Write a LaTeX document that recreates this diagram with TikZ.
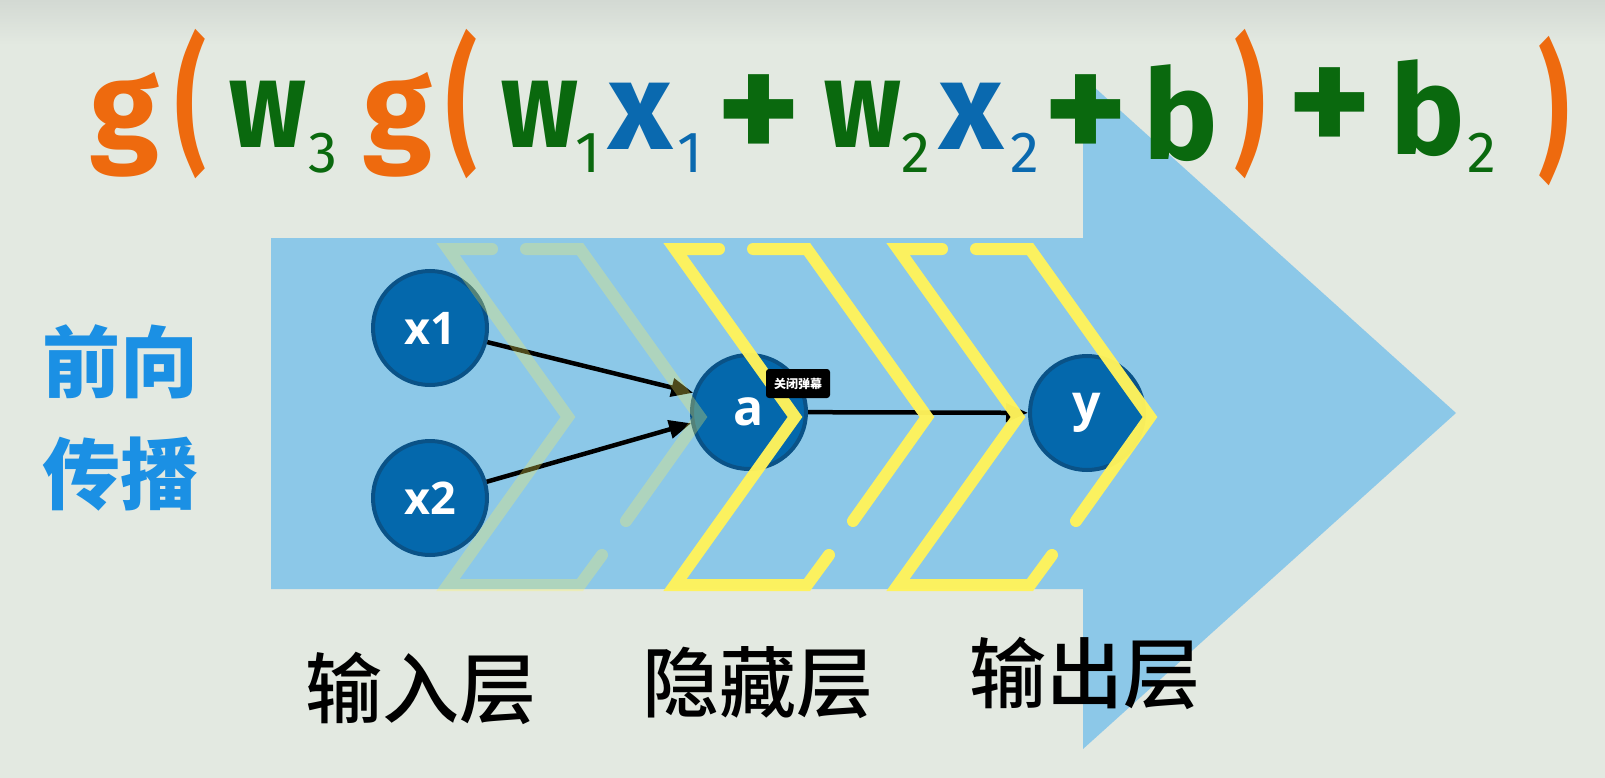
\documentclass[tikz,border=0pt]{standalone}
\usepackage{fontspec}
\setmainfont{Open Sans}
\newfontfamily\cjk{Noto Sans CJK SC}
\newfontfamily\cjkmed{Noto Sans CJK SC}[UprightFont={* Medium}]
\newfontfamily\formfont{Fira Sans}
\usetikzlibrary{arrows.meta}
\definecolor{bg}{HTML}{E3E9E1}
\definecolor{bgtop}{HTML}{D3D9D3}
\definecolor{orng}{HTML}{EE6A0E}
\definecolor{fgreen}{HTML}{0A690E}
\definecolor{fblue}{HTML}{0A69AF}
\definecolor{lblue}{HTML}{1B90E4}
\definecolor{arrowblue}{HTML}{8CC8E8}
\definecolor{chevyellow}{HTML}{FFF35B}
\definecolor{nfill}{HTML}{0468AC}
\definecolor{nborder}{HTML}{0A5287}
\tikzset{
  fl/.style={inner sep=0, anchor=base, font=\formfont\bfseries\fontsize{125}{125}\selectfont},
  fplus/.style={inner sep=0, anchor=center, text=fgreen, font=\formfont\bfseries\fontsize{160}{160}\selectfont},
  fs/.style={inner sep=0, anchor=base, font=\formfont\fontsize{58}{58}\selectfont},
  fp/.style={inner sep=0, anchor=center, text=orng, font=\formfont\bfseries\fontsize{140}{140}\selectfont},
  neuron/.style={circle, fill=nfill, draw=nborder, line width=4pt, minimum size=114pt,
    inner sep=0, text=white, font=\bfseries\fontsize{45}{45}\selectfont},
  conn/.style={line width=4.5pt, -{Triangle[length=22pt,width=18pt]}},
  chevline/.style={line width=12pt, draw=chevyellow, line cap=round, line join=miter},
  layerlabel/.style={inner sep=0, font=\cjkmed\fontsize{77}{77}\selectfont},
  sidelabel/.style={inner sep=0, text=lblue, font=\cjk\bfseries\fontsize{78}{78}\selectfont},
}
\newcommand\mychev[2]{%
  \draw[chevline,#2] ({#1+44},249) -- (#1,249) -- ({#1+120},417) -- (#1,585) -- ({#1+132},585) -- ({#1+154},555);
  \draw[chevline,#2] ({#1+78},249) -- ({#1+132},249) -- ({#1+252},417) -- ({#1+178},521);
}
\newcommand\narroww{\scalebox{0.82}[1]{w}}
\newcommand\tallparen[1]{\scalebox{0.68}[1.05]{#1}}
\begin{document}
\begin{tikzpicture}[x=1pt,y=-1pt]
\useasboundingbox (0,0) rectangle (1605,778);
\fill[bg] (0,0) rectangle (1605,778);
\shade[top color=bgtop, bottom color=bg] (0,0) rectangle (1605,45);
% big arrow
\fill[arrowblue] (271,238) -- (1083,238) -- (1083,77) -- (1456,413) -- (1083,749) -- (1083,589) -- (271,589) -- cycle;
% neurons
\node[neuron] (x1) at (430,328) {x1};
\node[neuron] (x2) at (430,498) {x2};
\node[neuron, font=\bfseries\fontsize{50}{50}\selectfont] (a) at (749,412) {a};
\node[neuron, font=\bfseries\fontsize{50}{50}\selectfont] (y) at (1087,413) {y};
\draw[conn] (x1) -- (a.161);
\draw[conn] (x2) -- (a.191);
\draw[conn] (a) -- (y);
% chevrons
\mychev{448}{draw opacity=0.3}
\mychev{675}{draw opacity=0.97}
\mychev{898}{draw opacity=0.97}
% overlay label
\node[fill=black, rounded corners=3pt, text=white, inner sep=0, minimum width=64, minimum height=29,
  font=\cjk\bfseries\fontsize{12}{12}\selectfont] (close) at (798,383.5) {关闭弹幕};
% formula
\node[fl, text=orng] (g1) at (125,150) {g};
\node[fp] (p1) at (191,104) {\tallparen{(}};
\node[fl, text=fgreen] (w3) at (268,148) {\narroww};
\node[fs, text=fgreen] (s3) at (323,173) {3};
\node[fl, text=orng] (g2) at (398,150) {g};
\node[fp] (p2) at (462,104) {\tallparen{(}};
\node[fl, text=fgreen] (w1) at (540,148) {\narroww};
\node[fs, text=fgreen] (s1) at (588,173) {1};
\node[fl, text=fblue] (xx1) at (640,150) {x};
\node[fs, text=fblue] (sx1) at (690,173) {1};
\node[fplus] (plus1) at (759,119) {+};
\node[fl, text=fgreen] (w2) at (863,148) {\narroww};
\node[fs, text=fgreen] (s2) at (916,173) {2};
\node[fl, text=fblue] (xx2) at (971,150) {x};
\node[fs, text=fblue] (sx2) at (1025,173) {2};
\node[fplus] (plus2) at (1086,119) {+};
\node[fl, text=fgreen] (b1) at (1181,160) {b};
\node[fp] (p3) at (1250,104) {\tallparen{)}};
\node[fplus] (plus3) at (1330,112) {+};
\node[fl, text=fgreen] (b2) at (1428,155) {b};
\node[fs, text=fgreen] (sb2) at (1482,173) {2};
\node[fp] (p4) at (1554,111) {\tallparen{)}};
% side label
\node[sidelabel] (qx) at (120,362) {前向};
\node[sidelabel] (cb) at (120,474) {传播};
% layer labels
\node[layerlabel] (inl) at (421,688) {输入层};
\node[layerlabel] (hidl) at (758,683) {隐藏层};
\node[layerlabel] (outl) at (1085,673) {输出层};
\end{tikzpicture}
\end{document}
